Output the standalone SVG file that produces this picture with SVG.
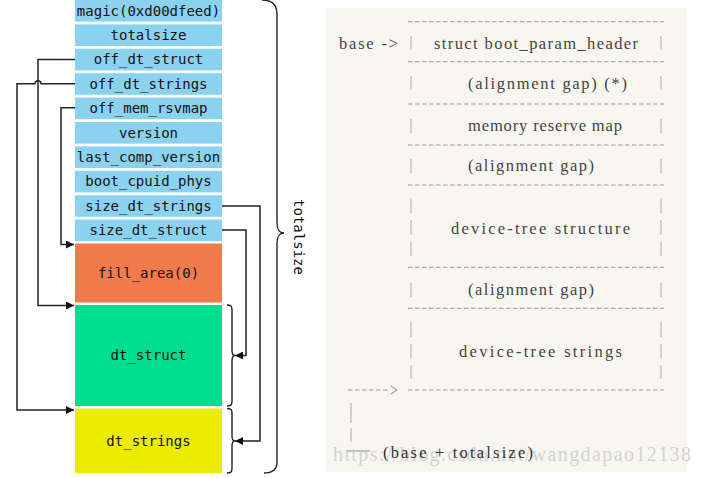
<svg xmlns="http://www.w3.org/2000/svg" width="704" height="478" viewBox="0 0 704 478">
<style>
.f{fill:#8bd2f0}
.t{font-family:"DejaVu Sans Mono",monospace;font-size:14px;fill:#111;text-anchor:middle}
.c{fill:none;stroke:#222;stroke-width:1.5}
.b{fill:none;stroke:#222;stroke-width:1.4}
.r{font-family:"Liberation Serif",serif;font-size:16.5px;fill:#444}
.d{stroke:#999;stroke-width:1;stroke-dasharray:4.5 2.5}
.v{stroke:#aaa;stroke-width:1}
</style>
<defs>
<marker id="ah" markerUnits="userSpaceOnUse" markerWidth="8" markerHeight="8" refX="8" refY="4" orient="auto">
<path d="M0,0 L8,4 L0,8 z" fill="#111"/>
</marker>
</defs>
<rect width="704" height="478" fill="#fff"/>
<g id="magic"><rect class="f" x="75" y="0" width="147" height="21.6"/><text class="t" x="148.5" y="15.5">magic(0xd00dfeed)</text></g>
<g id="totalsize"><rect class="f" x="75" y="24.4" width="147" height="21.6"/><text class="t" x="148.5" y="39.9">totalsize</text></g>
<g id="off_dt_struct"><rect class="f" x="75" y="48.8" width="147" height="21.6"/><text class="t" x="148.5" y="64.3">off_dt_struct</text></g>
<g id="off_dt_strings"><rect class="f" x="75" y="73.2" width="147" height="21.6"/><text class="t" x="148.5" y="88.7">off_dt_strings</text></g>
<g id="off_mem_rsvmap"><rect class="f" x="75" y="97.6" width="147" height="21.6"/><text class="t" x="148.5" y="113.1">off_mem_rsvmap</text></g>
<g id="version"><rect class="f" x="75" y="122" width="147" height="21.6"/><text class="t" x="148.5" y="137.5">version</text></g>
<g id="last_comp_version"><rect class="f" x="75" y="146.4" width="147" height="21.6"/><text class="t" x="148.5" y="161.9">last_comp_version</text></g>
<g id="boot_cpuid_phys"><rect class="f" x="75" y="170.8" width="147" height="21.6"/><text class="t" x="148.5" y="186.3">boot_cpuid_phys</text></g>
<g id="size_dt_strings"><rect class="f" x="75" y="195.2" width="147" height="21.6"/><text class="t" x="148.5" y="210.7">size_dt_strings</text></g>
<g id="size_dt_struct"><rect class="f" x="75" y="219.6" width="147" height="21.6"/><text class="t" x="148.5" y="235.1">size_dt_struct</text></g>
<g id="fill_area"><rect fill="#f27b4b" x="75" y="243.5" width="147" height="59"/><text class="t" x="148.5" y="277.5">fill_area(0)</text></g>
<g id="dt_struct"><rect fill="#00de8e" x="75" y="305" width="147" height="101"/><text class="t" x="148.5" y="360">dt_struct</text></g>
<g id="dt_strings"><rect fill="#ecec00" x="75" y="408.5" width="147" height="64.5"/><text class="t" x="148.5" y="445.5">dt_strings</text></g>
<g id="connectors">
<path class="c" d="M75 59.5 H38 V305.5 H74" marker-end="url(#ah)"/>
<path class="c" d="M75 83.7 H41 A3 3 0 0 0 35 83.7 H17 V410 H74" marker-end="url(#ah)"/>
<path class="c" d="M75 107.7 H61 V244.5 H74" marker-end="url(#ah)"/>
<path class="c" d="M222 206 H260 V441 H235" marker-end="url(#ah)"/>
<path class="c" d="M222 230 H246 V355.5 H235" marker-end="url(#ah)"/>
</g>
<g id="braces">
<path class="b" d="M227 305 C231 305 232 306 232 310 V350 C232 354 233 355.5 235 355.5 C233 355.5 232 357 232 361 V401 C232 405 231 406 227 406"/>
<path class="b" d="M227 408.5 C231 408.5 232 409.5 232 413 V436 C232 440 233 441 235 441 C233 441 232 442 232 446 V468 C232 472 231 473 227 473"/>
<path class="b" d="M262 0 C272 0 277 4 277 14 V222 C277 230 279 233 284 233 C279 233 277 236 277 244 V462 C277 470 272 473 264 473"/>
</g>
<g id="totalsize-label"><text transform="translate(298,237) rotate(90)" y="4" style="font-family:'DejaVu Sans Mono',monospace;font-size:14px;fill:#111;text-anchor:middle">totalsize</text></g>
<g id="layout">
<rect x="326" y="8" width="361" height="464" fill="#f8f6f0"/>
<line class="d" x1="408" y1="21.7" x2="664" y2="21.7"/>
<line class="d" x1="408" y1="61.7" x2="664" y2="61.7"/>
<line class="d" x1="408" y1="104" x2="664" y2="104"/>
<line class="d" x1="408" y1="145" x2="664" y2="145"/>
<line class="d" x1="408" y1="185" x2="664" y2="185"/>
<line class="d" x1="408" y1="267.3" x2="664" y2="267.3"/>
<line class="d" x1="408" y1="308.3" x2="664" y2="308.3"/>
<line class="d" x1="408" y1="390" x2="664" y2="390"/>
<line class="d" x1="348" y1="390" x2="390" y2="390"/>
<path d="M391 386 L397 390 L391 394" fill="none" stroke="#888" stroke-width="1"/>
<path class="v" d="M411 36V50M661 36V50M411 76V90M661 76V90M411 119V133M661 119V133M411 159V173M661 159V173M411 198V213M661 198V213M411 220V235M661 220V235M411 242V256M661 242V256M411 283V297M661 283V297M411 322V337M661 322V337M411 344V358M661 344V358M411 365V379M661 365V379M351 403V423M351 428V442"/>
<line x1="347" y1="451" x2="370" y2="451" stroke="#888" stroke-width="1"/>
<text class="r" x="339" y="49" textLength="59" lengthAdjust="spacing">base -&gt;</text>
<text class="r" x="434" y="49" textLength="204" lengthAdjust="spacing">struct boot_param_header</text>
<text class="r" x="468" y="89" textLength="159" lengthAdjust="spacing">(alignment gap) (*)</text>
<text class="r" x="468" y="131" textLength="154" lengthAdjust="spacing">memory reserve map</text>
<text class="r" x="468" y="171" textLength="126" lengthAdjust="spacing">(alignment gap)</text>
<text class="r" x="451" y="234" textLength="179" lengthAdjust="spacing">device-tree structure</text>
<text class="r" x="468" y="295" textLength="126" lengthAdjust="spacing">(alignment gap)</text>
<text class="r" x="459" y="357" textLength="163" lengthAdjust="spacing">device-tree strings</text>
<text x="333" y="461" textLength="358" lengthAdjust="spacing" style="font-family:'Liberation Serif',serif;font-size:20px;fill:#c8c8c8;fill-opacity:0.8">https://blog.csdn.net/wangdapao12138</text>
<text class="r" x="383" y="458" textLength="150" lengthAdjust="spacing" style="fill:#333">(base + totalsize)</text>
</g>
</svg>
